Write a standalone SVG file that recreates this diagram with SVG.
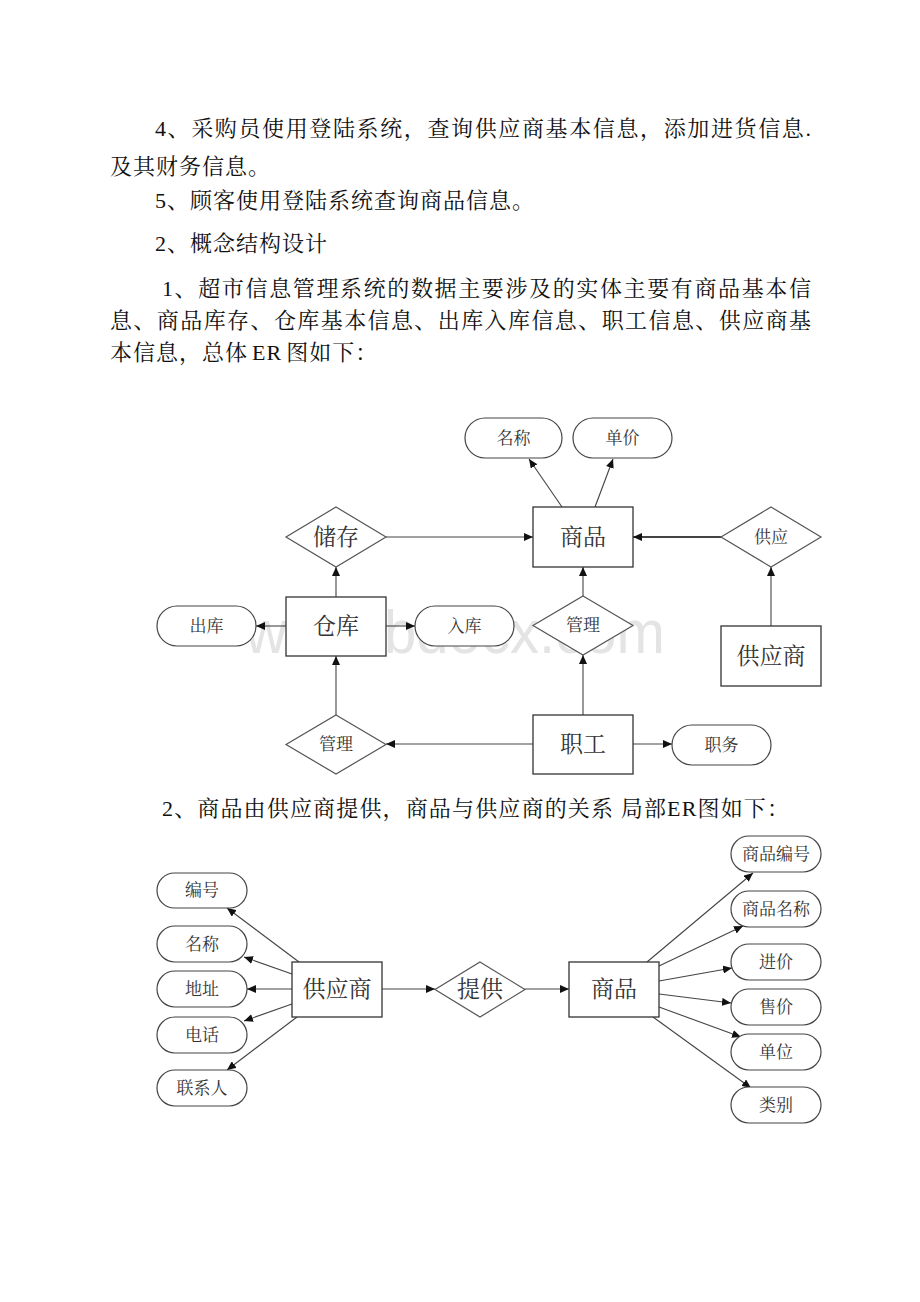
<svg xmlns="http://www.w3.org/2000/svg" width="920" height="1302" viewBox="0 0 920 1302">
<defs>
<style>
.p{font-family:"Liberation Serif","Noto Serif CJK SC","Noto Sans CJK SC",serif;font-size:22px;fill:#111;letter-spacing:1px}
.box{fill:#fff;stroke:#333;stroke-width:1.3}
.dia{fill:#fff;stroke:#555;stroke-width:1.2}
.pill{fill:#fff;stroke:#444;stroke-width:1.2}
.lb{font-family:"Liberation Serif","Noto Serif CJK SC","Noto Sans CJK SC",serif;fill:#333;text-anchor:middle;dominant-baseline:central}
.big{font-size:23px}
.sm{font-size:17px}
.c{stroke:#444;stroke-width:1.1;fill:none;marker-end:url(#ah)}
.wm{font-family:"Liberation Sans",Arial,sans-serif;font-size:62px;fill:#e4e4e4}
</style>
<marker id="ah" viewBox="0 0 9 8" refX="9" refY="4" markerWidth="9" markerHeight="8" markerUnits="userSpaceOnUse" orient="auto">
<path d="M0,0 L9,4 L0,8 z" fill="#111"/>
</marker>
</defs>
<rect x="0" y="0" width="920" height="1302" fill="#fff"/>

<g id="paragraphs">
<text class="p" x="155" y="136" textLength="657" lengthAdjust="spacing">4、采购员使用登陆系统，查询供应商基本信息，添加进货信息.</text>
<text class="p" x="110" y="174">及其财务信息。</text>
<text class="p" x="155" y="208">5、顾客使用登陆系统查询商品信息。</text>
<text class="p" x="155" y="251">2、概念结构设计</text>
<text class="p" x="162" y="296" textLength="650" lengthAdjust="spacing">1、超市信息管理系统的数据主要涉及的实体主要有商品基本信</text>
<text class="p" x="110" y="328" textLength="702" lengthAdjust="spacing">息、商品库存、仓库基本信息、出库入库信息、职工信息、供应商基</text>
<text class="p" x="110" y="360">本信息，总体<tspan dx="4">ER</tspan><tspan dx="4">图如下：</tspan></text>
<text class="p" x="162" y="816" textLength="628" lengthAdjust="spacing">2、商品由供应商提供，商品与供应商的关系 局部ER图如下：</text>
</g>

<text class="wm" x="245" y="653" textLength="420" lengthAdjust="spacingAndGlyphs">www.bdocx.com</text>

<g id="connectors">
<line class="c" x1="562" y1="507" x2="529" y2="459"/>
<line class="c" x1="595" y1="507" x2="613" y2="459"/>
<line class="c" x1="386" y1="537" x2="533" y2="537"/>
<line class="c" x1="721" y1="537" x2="633" y2="537" style="stroke-width:2"/>
<line class="c" x1="336" y1="597" x2="336" y2="567"/>
<line class="c" x1="771" y1="626" x2="771" y2="567"/>
<line class="c" x1="583" y1="596" x2="583" y2="567"/>
<line class="c" x1="286" y1="626" x2="256" y2="626"/>
<line class="c" x1="386" y1="626" x2="415" y2="626"/>
<line class="c" x1="583" y1="715" x2="583" y2="655"/>
<line class="c" x1="336" y1="715" x2="336" y2="656"/>
<line class="c" x1="533" y1="744" x2="386" y2="744"/>
<line class="c" x1="633" y1="744" x2="672" y2="744"/>

<line class="c" x1="299" y1="962" x2="227" y2="908"/>
<line class="c" x1="292" y1="974" x2="244" y2="957"/>
<line class="c" x1="292" y1="989" x2="247" y2="989"/>
<line class="c" x1="292" y1="1004" x2="244" y2="1021"/>
<line class="c" x1="297" y1="1017" x2="227" y2="1070"/>
<line class="c" x1="382" y1="989" x2="435" y2="989"/>
<line class="c" x1="525" y1="989" x2="569" y2="989"/>
<line class="c" x1="647" y1="962" x2="753" y2="873"/>
<line class="c" x1="659" y1="966" x2="743" y2="926"/>
<line class="c" x1="659" y1="981" x2="732" y2="968"/>
<line class="c" x1="659" y1="994" x2="731" y2="1003"/>
<line class="c" x1="659" y1="1007" x2="741" y2="1037"/>
<line class="c" x1="653" y1="1017" x2="751" y2="1088"/>
</g>

<g id="n-shangpin"><rect class="box" x="533" y="507" width="100" height="60"/><text class="lb big" x="583" y="537">商品</text></g>
<g id="n-mingcheng"><rect class="pill" x="465" y="418" width="97" height="40" rx="20"/><text class="lb sm" x="513.5" y="438">名称</text></g>
<g id="n-danjia"><rect class="pill" x="573" y="418" width="99" height="40" rx="20"/><text class="lb sm" x="622.5" y="438">单价</text></g>
<g id="n-chucun"><polygon class="dia" points="336,507 386,537 336,567 286,537"/><text class="lb big" x="336" y="537">储存</text></g>
<g id="n-gongying"><polygon class="dia" points="771,507 821,537 771,567 721,537"/><text class="lb sm" x="771" y="537">供应</text></g>
<g id="n-cangku"><rect class="box" x="286" y="597" width="100" height="59"/><text class="lb big" x="336" y="626.5">仓库</text></g>
<g id="n-chuku"><rect class="pill" x="157" y="606" width="99" height="40" rx="20"/><text class="lb sm" x="206.5" y="626">出库</text></g>
<g id="n-ruku"><rect class="pill" x="415" y="606" width="99" height="40" rx="20"/><text class="lb sm" x="464.5" y="626">入库</text></g>
<g id="n-guanli1"><polygon class="dia" points="583,596 633,625.5 583,655 533,625.5"/><text class="lb sm" x="583" y="625.5">管理</text></g>
<g id="n-gongyingshang"><rect class="box" x="721" y="626" width="100" height="60"/><text class="lb big" x="771" y="656">供应商</text></g>
<g id="n-guanli2"><polygon class="dia" points="336,715 386,744.5 336,774 286,744.5"/><text class="lb sm" x="336" y="744.5">管理</text></g>
<g id="n-zhigong"><rect class="box" x="533" y="715" width="100" height="59"/><text class="lb big" x="583" y="744.5">职工</text></g>
<g id="n-zhiwu"><rect class="pill" x="672" y="725" width="99" height="40" rx="20"/><text class="lb sm" x="721.5" y="745">职务</text></g>

<g id="b-bianhao"><rect class="pill" x="157" y="873" width="90" height="35" rx="17.5"/><text class="lb sm" x="202" y="890.5">编号</text></g>
<g id="b-mingcheng"><rect class="pill" x="157" y="926" width="90" height="36" rx="18"/><text class="lb sm" x="202" y="944">名称</text></g>
<g id="b-dizhi"><rect class="pill" x="157" y="971" width="90" height="36" rx="18"/><text class="lb sm" x="202" y="989">地址</text></g>
<g id="b-dianhua"><rect class="pill" x="157" y="1017" width="90" height="36" rx="18"/><text class="lb sm" x="202" y="1035">电话</text></g>
<g id="b-lianxiren"><rect class="pill" x="157" y="1070" width="90" height="36" rx="18"/><text class="lb sm" x="202" y="1088">联系人</text></g>
<g id="b-gongyingshang"><rect class="box" x="292" y="962" width="90" height="55"/><text class="lb big" x="337" y="989.5">供应商</text></g>
<g id="b-tigong"><polygon class="dia" points="480,962 525,989.5 480,1017 435,989.5"/><text class="lb big" x="480" y="989.5">提供</text></g>
<g id="b-shangpin"><rect class="box" x="569" y="962" width="90" height="55"/><text class="lb big" x="614" y="989.5">商品</text></g>
<g id="b-spbh"><rect class="pill" x="731" y="836" width="90" height="36" rx="18"/><text class="lb sm" x="776" y="854">商品编号</text></g>
<g id="b-spmc"><rect class="pill" x="731" y="891" width="90" height="36" rx="18"/><text class="lb sm" x="776" y="909">商品名称</text></g>
<g id="b-jinjia"><rect class="pill" x="731" y="944" width="90" height="36" rx="18"/><text class="lb sm" x="776" y="962">进价</text></g>
<g id="b-shoujia"><rect class="pill" x="731" y="989" width="90" height="36" rx="18"/><text class="lb sm" x="776" y="1007">售价</text></g>
<g id="b-danwei"><rect class="pill" x="731" y="1034" width="90" height="36" rx="18"/><text class="lb sm" x="776" y="1052">单位</text></g>
<g id="b-leibie"><rect class="pill" x="731" y="1087" width="90" height="36" rx="18"/><text class="lb sm" x="776" y="1105">类别</text></g>
</svg>
